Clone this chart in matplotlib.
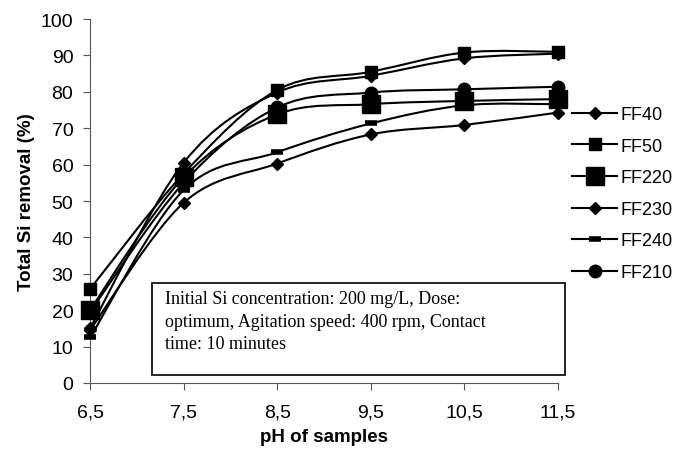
import matplotlib
matplotlib.use('Agg')
import matplotlib.pyplot as plt
from matplotlib.path import Path
from matplotlib.patches import PathPatch, Rectangle
from matplotlib.lines import Line2D

ph_labels = ['6,5', '7,5', '8,5', '9,5', '10,5', '11,5']

ff40 = [14.5, 49.5, 60.3, 68.3, 70.9, 74.3]
ff50 = [25.8, 57.5, 80.5, 85.5, 90.8, 91.0]
ff220 = [20.1, 56.5, 73.8, 76.6, 77.5, 78.0]
ff230 = [15.0, 60.5, 79.8, 84.4, 89.2, 90.5]
ff240 = [12.5, 53.0, 63.4, 71.3, 76.3, 76.6]
ff210 = [19.5, 55.0, 75.7, 79.8, 80.7, 81.4]

series_names = ['FF40', 'FF50', 'FF220', 'FF230', 'FF240', 'FF210']
series_values = [ff40, ff50, ff220, ff230, ff240, ff210]
series_markers = [('D', 6.5, 1), ('s', 8.5, 1), ('s', 13, 1), ('D', 6.5, 1), ('_', 9, 4), ('o', 9, 1)]

note = ('Initial Si concentration: 200 mg/L, Dose:\n'
        'optimum, Agitation speed: 400 rpm, Contact\n'
        'time: 10 minutes')


def smooth_path(xs, ys):
  # excel style smoothed line: bezier segments with 1/6 tangents
  n = len(xs)
  verts = [(xs[0], ys[0])]
  codes = [Path.MOVETO]
  for i in range(n - 1):
    x0, y0 = xs[max(i - 1, 0)], ys[max(i - 1, 0)]
    x1, y1 = xs[i], ys[i]
    x2, y2 = xs[i + 1], ys[i + 1]
    x3, y3 = xs[min(i + 2, n - 1)], ys[min(i + 2, n - 1)]
    c1 = (x1 + (x2 - x0) / 6, y1 + (y2 - y0) / 6)
    c2 = (x2 - (x3 - x1) / 6, y2 - (y3 - y1) / 6)
    verts += [c1, c2, (x2, y2)]
    codes += [Path.CURVE4] * 3
  return Path(verts, codes)


def main():
  plt.rcParams['font.family'] = ['Liberation Sans', 'DejaVu Sans']
  fig = plt.figure(figsize=(6.86, 4.56), dpi=100)
  ax = fig.add_axes([0.1312, 0.158, 0.682, 0.798])

  xs = list(range(len(ph_labels)))
  handles = []
  for name, vals, (m, ms, mew) in zip(series_names, series_values, series_markers):
    ax.add_patch(PathPatch(smooth_path(xs, vals), fill=False, edgecolor='black', lw=1.5, zorder=2))
    ax.plot(xs, vals, linestyle='none', marker=m, ms=ms, mew=mew, color='black',
            mfc='black', zorder=3, clip_on=False)
    handles.append(Line2D([], [], color='black', lw=1.5, marker=m, ms=ms, mew=mew, mfc='black'))

  ax.set_xlim(0, 5)
  ax.set_ylim(0, 100)
  ax.set_xticks(xs)
  ax.set_xticklabels(ph_labels)
  ax.set_yticks(range(0, 101, 10))
  for s in ['top', 'right']:
    ax.spines[s].set_visible(False)
  for s in ['left', 'bottom']:
    ax.spines[s].set_color('#555555')
  ax.tick_params(axis='both', labelsize=14, length=5, color='#555555', direction='out')
  ax.tick_params(axis='x', pad=10)
  ax.tick_params(axis='y', pad=7)
  ax.set_xlabel('pH of samples', fontsize=13.5, fontweight='bold', labelpad=5)
  ax.set_ylabel('Total Si removal (%)', fontsize=13.5, fontweight='bold', labelpad=4)

  # note box, fixed size like the excel text box
  ax.add_patch(Rectangle((0.662, 2.2), 4.413, 25.3, fc='white', ec='black', lw=1.2,
                         zorder=5, clip_on=False))
  ax.text(0.80, 25.6, note, fontsize=13, family='Liberation Serif', va='top', ha='left',
          linespacing=1.45, zorder=6)

  fig.legend(handles, series_names, loc='upper left', bbox_to_anchor=(572 / 686, 1 - 107 / 456),
             frameon=False, fontsize=13, handlelength=2.5, handletextpad=0.2,
             labelspacing=0.81, borderpad=0, borderaxespad=0)

  fig.savefig('out.png', dpi=100)


if __name__ == '__main__':
  main()
